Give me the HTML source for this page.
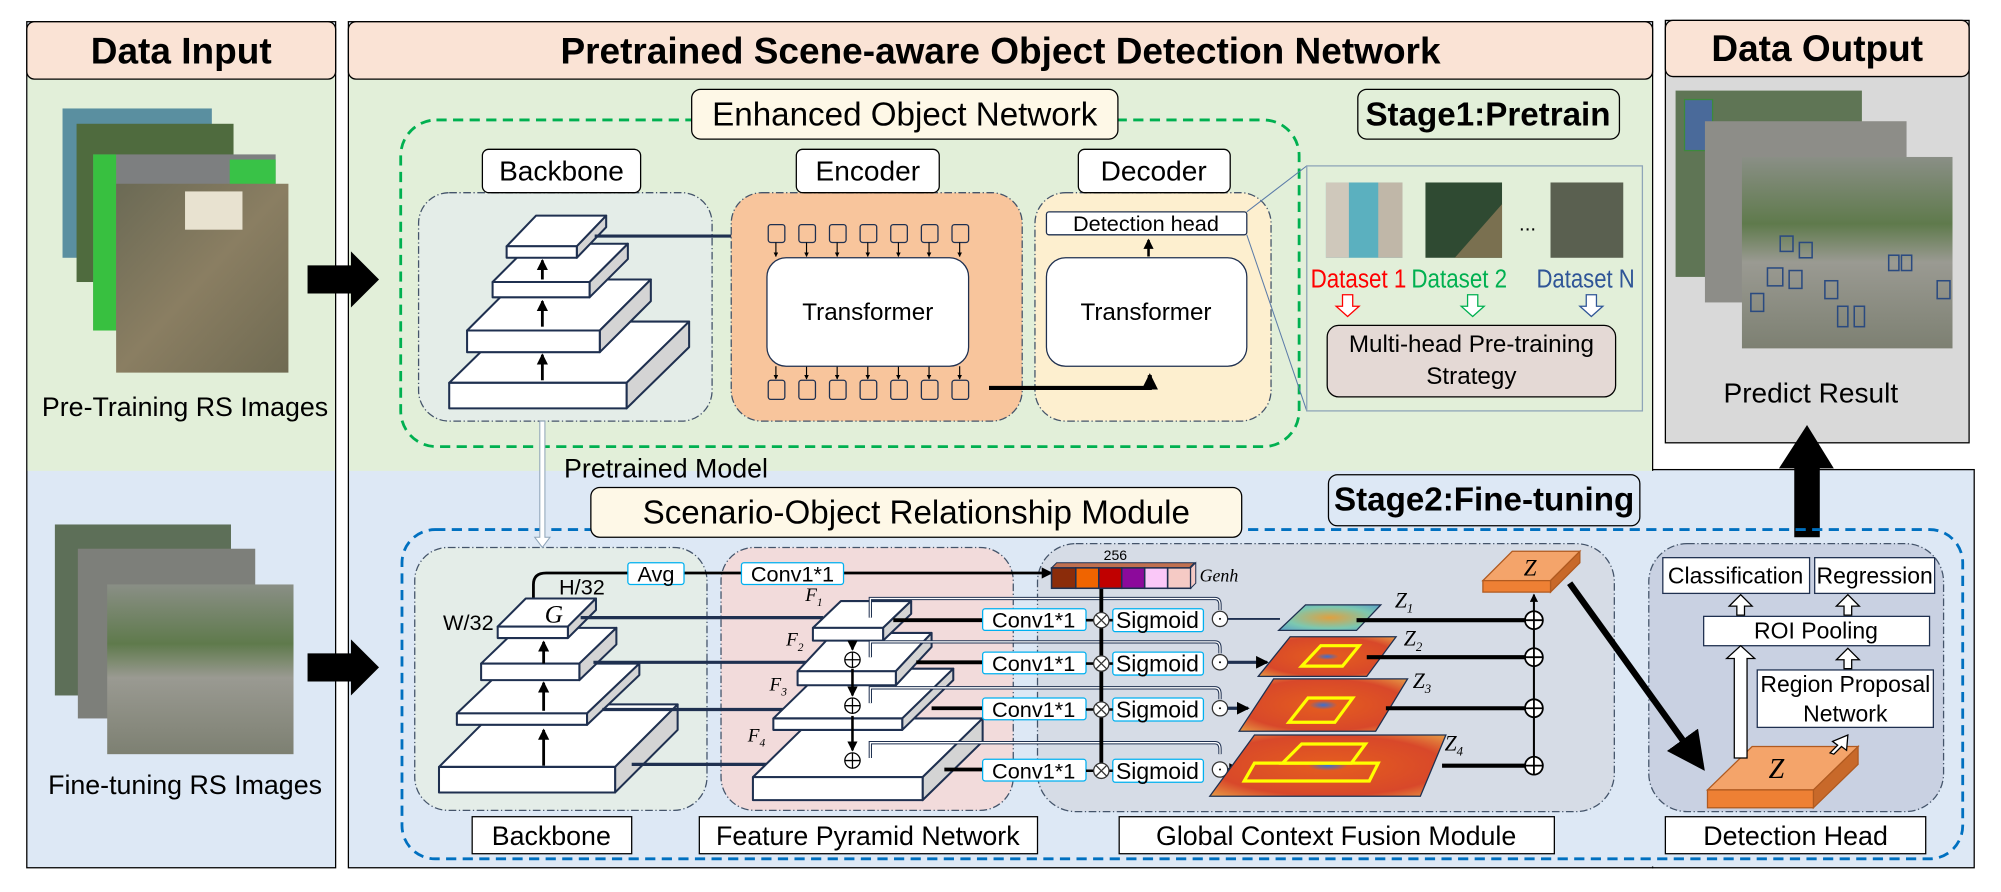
<!DOCTYPE html>
<html><head><meta charset="utf-8"><style>
html,body{margin:0;padding:0;background:#fff;}
svg{display:block;}
text{font-family:"Liberation Sans Narrow","Liberation Sans",sans-serif;fill:#000;}
.s{font-family:"Liberation Serif",serif;font-style:italic;}
</style></head><body>
<svg width="2001" height="892" viewBox="0 0 1568 699" preserveAspectRatio="none" xmlns="http://www.w3.org/2000/svg">
<defs>
<marker id="ah" markerWidth="6" markerHeight="6" refX="5" refY="3" orient="auto" markerUnits="strokeWidth"><path d="M0,0L6,3L0,6z" fill="#000"/></marker>
<marker id="ahs" markerWidth="4" markerHeight="4" refX="3.5" refY="2" orient="auto" markerUnits="strokeWidth"><path d="M0,0L4,2L0,4z" fill="#000"/></marker>
<linearGradient id="sat1" x1="0" y1="0" x2="1" y2="1"><stop offset="0" stop-color="#6b6a55"/><stop offset=".5" stop-color="#8a7e62"/><stop offset="1" stop-color="#6f6a52"/></linearGradient>
<linearGradient id="sat2" x1="0" y1="0" x2="0" y2="1"><stop offset="0" stop-color="#8a8f86"/><stop offset=".35" stop-color="#5f7a4c"/><stop offset=".55" stop-color="#9a9a92"/><stop offset="1" stop-color="#7d8072"/></linearGradient>
<radialGradient id="heat" cx=".5" cy=".5" r=".7"><stop offset="0" stop-color="#3a6fd0"/><stop offset=".12" stop-color="#e35a20"/><stop offset=".7" stop-color="#d8482a"/><stop offset="1" stop-color="#e79a45"/></radialGradient>
<radialGradient id="heat1" cx=".5" cy=".5" r=".7"><stop offset="0" stop-color="#e0a040"/><stop offset=".6" stop-color="#7cc8b0"/><stop offset="1" stop-color="#5aa0c8"/></radialGradient>
</defs>

<!-- panels -->
<rect x="21" y="17" width="242" height="663" fill="#dde8f5" stroke="#000"/>
<rect x="21.5" y="60" width="241" height="309" fill="#e2efd9"/>
<rect x="21" y="17" width="242" height="45" rx="6" fill="#fae3d5" stroke="#000"/>
<text x="142" y="40" font-size="29" font-weight="bold" text-anchor="middle" dominant-baseline="central">Data Input</text>

<rect x="273" y="17" width="1022" height="663" fill="#dde8f5" stroke="#000"/>
<rect x="1295" y="368" width="252" height="312" fill="#dde8f5" stroke="#000"/>
<rect x="1294" y="369" width="3" height="310" fill="#dde8f5"/>
<rect x="273.5" y="60" width="1021" height="309" fill="#e2efd9"/>
<rect x="273" y="17" width="1022" height="45" rx="6" fill="#fae3d5" stroke="#000"/>
<text x="784" y="40" font-size="29" font-weight="bold" text-anchor="middle" dominant-baseline="central">Pretrained Scene-aware Object Detection Network</text>

<rect x="1305" y="16" width="238" height="331" fill="#d9d9d9" stroke="#000"/>
<rect x="1305" y="16" width="238" height="44" rx="6" fill="#fae3d5" stroke="#000"/>
<text x="1424" y="38" font-size="29" font-weight="bold" text-anchor="middle" dominant-baseline="central">Data Output</text>

<!-- left images top -->
<rect x="49" y="85" width="117" height="117" fill="#5a8fa0"/>
<rect x="60" y="97" width="123" height="124" fill="#4f6b3e"/>
<rect x="73" y="121" width="143" height="138" fill="#7d7f80"/>
<rect x="73" y="121" width="18" height="138" fill="#38c040"/>
<rect x="180" y="125" width="36" height="40" fill="#39c247"/>
<rect x="91" y="144" width="135" height="148" fill="url(#sat1)"/>
<rect x="145" y="150" width="45" height="30" fill="#e8e2d0"/>
<text x="145" y="319" font-size="21" text-anchor="middle" dominant-baseline="central">Pre-Training RS Images</text>
<!-- left images bottom -->
<rect x="43" y="411" width="138" height="134" fill="#5d6f58"/>
<rect x="61" y="430" width="139" height="133" fill="#7d7f7a"/>
<rect x="84" y="458" width="146" height="133" fill="url(#sat2)"/>
<text x="145" y="615" font-size="21" text-anchor="middle" dominant-baseline="central">Fine-tuning RS Images</text>

<!-- big arrows -->
<path d="M241,208H275V197L297,219L275,241V230H241z" fill="#000"/>
<path d="M241,512H275V501L297,523L275,545V534H241z" fill="#000"/>
<path d="M1406,421V367H1394L1416,333L1437,367H1426V421z" fill="#000"/>

<!-- right output images -->
<rect x="1313" y="71" width="146" height="146" fill="#5f7555"/>
<rect x="1320" y="78" width="22" height="40" fill="#4a6a9a" stroke="#3c8a3c"/>
<rect x="1336" y="95" width="158" height="142" fill="#8d8d88"/>
<rect x="1365" y="123" width="165" height="150" fill="url(#sat2)"/>
<g fill="none" stroke="#2a4a80" stroke-width="1.2">
<rect x="1395" y="185" width="10" height="12"/><rect x="1410" y="190" width="10" height="12"/><rect x="1385" y="210" width="12" height="14"/><rect x="1402" y="212" width="10" height="14"/><rect x="1430" y="220" width="10" height="14"/><rect x="1440" y="240" width="8" height="16"/><rect x="1453" y="240" width="8" height="16"/><rect x="1480" y="200" width="8" height="12"/><rect x="1490" y="200" width="8" height="12"/><rect x="1518" y="220" width="10" height="14"/><rect x="1372" y="230" width="10" height="14"/>
</g>
<text x="1419" y="308" font-size="22" text-anchor="middle" dominant-baseline="central">Predict Result</text>

<!-- ===== Stage 1 ===== -->
<rect x="314" y="94" width="704" height="256" rx="28" fill="none" stroke="#00b050" stroke-width="2.2" stroke-dasharray="8,5"/>
<rect x="542" y="70" width="334" height="39" rx="7" fill="#fef8e7" stroke="#000"/>
<text x="709" y="90" font-size="26" text-anchor="middle" dominant-baseline="central">Enhanced Object Network</text>
<rect x="1064" y="70" width="205" height="39" rx="7" fill="#e2efd9" stroke="#000"/>
<text x="1166" y="90" font-size="26" font-weight="bold" text-anchor="middle" dominant-baseline="central">Stage1:Pretrain</text>

<rect x="328" y="151" width="230" height="179" rx="24" fill="#e4ede8" stroke="#44546a" stroke-dasharray="6,2,1,2"/>
<rect x="378" y="117" width="124" height="34" rx="5" fill="#fff" stroke="#000"/>
<text x="440" y="134" font-size="22" text-anchor="middle" dominant-baseline="central">Backbone</text>

<g stroke="#1f3050" stroke-width="1.6" stroke-linejoin="round">
<polygon points="352,300 401,252 540,252 491,300" fill="#fff"/><polygon points="491,300 540,252 540,272 491,320" fill="#d4d4d4"/><rect x="352" y="300" width="139" height="20" fill="#fff"/>
<polygon points="366,259 406,219 510,219 470,259" fill="#fff"/><polygon points="470,259 510,219 510,236 470,276" fill="#d4d4d4"/><rect x="366" y="259" width="104" height="17" fill="#fff"/>
<polygon points="386,221 416,191 492,191 462,221" fill="#fff"/><polygon points="462,221 492,191 492,203 462,233" fill="#d4d4d4"/><rect x="386" y="221" width="76" height="12" fill="#fff"/>
<polygon points="397,193 420,169 475,169 452,193" fill="#fff"/><polygon points="452,193 475,169 475,178 452,202" fill="#d4d4d4"/><rect x="397" y="193" width="55" height="9" fill="#fff"/>
</g>
<g stroke="#000" stroke-width="2.2" marker-end="url(#ahs)">
<line x1="425" y1="298" x2="425" y2="278"/><line x1="425" y1="256" x2="425" y2="236"/><line x1="425" y1="219" x2="425" y2="204"/>
</g>
<line x1="466" y1="185" x2="597" y2="185" stroke="#1f3050" stroke-width="2.5" marker-end="url(#ahs)"/>

<rect x="573" y="151" width="228" height="179" rx="24" fill="#f8c59c" stroke="#44546a" stroke-dasharray="6,2,1,2"/>
<rect x="624" y="117" width="112" height="34" rx="5" fill="#fff" stroke="#000"/>
<text x="680" y="134" font-size="22" text-anchor="middle" dominant-baseline="central">Encoder</text>
<g fill="#f8c59c" stroke="#1f3050" stroke-width="1">
<rect x="602" y="176" width="13" height="14" rx="2"/><rect x="626" y="176" width="13" height="14" rx="2"/><rect x="650" y="176" width="13" height="14" rx="2"/><rect x="674" y="176" width="13" height="14" rx="2"/><rect x="698" y="176" width="13" height="14" rx="2"/><rect x="722" y="176" width="13" height="14" rx="2"/><rect x="746" y="176" width="13" height="14" rx="2"/>
<rect x="602" y="298" width="13" height="15" rx="2"/><rect x="626" y="298" width="13" height="15" rx="2"/><rect x="650" y="298" width="13" height="15" rx="2"/><rect x="674" y="298" width="13" height="15" rx="2"/><rect x="698" y="298" width="13" height="15" rx="2"/><rect x="722" y="298" width="13" height="15" rx="2"/><rect x="746" y="298" width="13" height="15" rx="2"/>
</g>
<g stroke="#000" stroke-width="0.9" marker-end="url(#ahs)">
<line x1="608" y1="190" x2="608" y2="201"/><line x1="632" y1="190" x2="632" y2="201"/><line x1="656" y1="190" x2="656" y2="201"/><line x1="680" y1="190" x2="680" y2="201"/><line x1="704" y1="190" x2="704" y2="201"/><line x1="728" y1="190" x2="728" y2="201"/><line x1="752" y1="190" x2="752" y2="201"/>
<line x1="608" y1="287" x2="608" y2="297"/><line x1="632" y1="287" x2="632" y2="297"/><line x1="656" y1="287" x2="656" y2="297"/><line x1="680" y1="287" x2="680" y2="297"/><line x1="704" y1="287" x2="704" y2="297"/><line x1="728" y1="287" x2="728" y2="297"/><line x1="752" y1="287" x2="752" y2="297"/>
</g>
<rect x="601" y="202" width="158" height="85" rx="15" fill="#fff" stroke="#1f3050"/>
<text x="680" y="245" font-size="19" text-anchor="middle" dominant-baseline="central">Transformer</text>

<rect x="811" y="151" width="185" height="179" rx="24" fill="#fdefcf" stroke="#44546a" stroke-dasharray="6,2,1,2"/>
<rect x="845" y="117" width="119" height="34" rx="5" fill="#fff" stroke="#000"/>
<text x="904" y="134" font-size="22" text-anchor="middle" dominant-baseline="central">Decoder</text>
<rect x="820" y="166" width="157" height="18" rx="2" fill="#fff" stroke="#1f3050"/>
<text x="898" y="175" font-size="17" text-anchor="middle" dominant-baseline="central">Detection head</text>
<line x1="900" y1="201" x2="900" y2="188" stroke="#000" stroke-width="2" marker-end="url(#ahs)"/>
<rect x="820" y="202" width="157" height="85" rx="15" fill="#fff" stroke="#1f3050"/>
<text x="898" y="245" font-size="19" text-anchor="middle" dominant-baseline="central">Transformer</text>
<polyline points="775,304 901,304 901,294" fill="none" stroke="#000" stroke-width="3.2" marker-end="url(#ahs)"/>

<line x1="977" y1="166" x2="1024" y2="130" stroke="#5b7ba8" stroke-width="0.8"/>
<line x1="977" y1="184" x2="1024" y2="322" stroke="#5b7ba8" stroke-width="0.8"/>
<rect x="1024" y="130" width="263" height="192" fill="#e2efd9" stroke="#8ea4b8"/>
<rect x="1039" y="143" width="60" height="59" fill="#5bb0bf"/><rect x="1039" y="143" width="18" height="59" fill="#cfc8bb"/><rect x="1080" y="143" width="19" height="59" fill="#c0b7a8"/>
<rect x="1117" y="143" width="60" height="59" fill="#2f4a32"/><polygon points="1140,202 1177,160 1177,202" fill="#7a7050"/>
<rect x="1215" y="143" width="57" height="59" fill="#5a6050"/>
<text x="1197" y="176" font-size="16" text-anchor="middle" dominant-baseline="central">...</text>
<text x="1027" y="219" font-size="20" textLength="75" lengthAdjust="spacingAndGlyphs" dominant-baseline="central" style="fill:#ff0000">Dataset 1</text>
<text x="1106" y="219" font-size="20" textLength="75" lengthAdjust="spacingAndGlyphs" dominant-baseline="central" style="fill:#00b050">Dataset 2</text>
<text x="1204" y="219" font-size="20" textLength="77" lengthAdjust="spacingAndGlyphs" dominant-baseline="central" style="fill:#2f5597">Dataset N</text>
<path d="M1052,231h8v9h5l-9,8l-9,-8h5z" fill="#fff" stroke="#ff0000"/>
<path d="M1150,231h8v9h5l-9,8l-9,-8h5z" fill="#fff" stroke="#00b050"/>
<path d="M1243,231h8v9h5l-9,8l-9,-8h5z" fill="#fff" stroke="#2f5597"/>
<rect x="1040" y="255" width="226" height="56" rx="9" fill="#e4d9d5" stroke="#000"/>
<text x="1153" y="270" font-size="19" text-anchor="middle" dominant-baseline="central">Multi-head Pre-training</text>
<text x="1153" y="295" font-size="19" text-anchor="middle" dominant-baseline="central">Strategy</text>

<!-- ===== Stage 2 ===== -->
<text x="442" y="367" font-size="21" dominant-baseline="central">Pretrained Model</text>
<rect x="1041" y="372" width="244" height="40" rx="7" fill="#dde8f5" stroke="#000"/>
<text x="1163" y="392" font-size="26" font-weight="bold" text-anchor="middle" dominant-baseline="central">Stage2:Fine-tuning</text>
<rect x="315" y="415" width="1223" height="258" rx="26" fill="none" stroke="#0070c0" stroke-width="2.2" stroke-dasharray="8,5"/>
<rect x="463" y="382" width="510" height="39" rx="7" fill="#fef8e7" stroke="#000"/>
<text x="718" y="402" font-size="26" text-anchor="middle" dominant-baseline="central">Scenario-Object Relationship Module</text>

<rect x="325" y="429" width="229" height="206" rx="26" fill="#e4ede8" stroke="#44546a" stroke-dasharray="6,2,1,2"/>
<rect x="565" y="429" width="229" height="206" rx="26" fill="#f2dbdb" stroke="#44546a" stroke-dasharray="6,2,1,2"/>
<rect x="813" y="426" width="452" height="210" rx="30" fill="#d6dce6" stroke="#44546a" stroke-dasharray="6,2,1,2"/>
<rect x="1292" y="426" width="231" height="210" rx="30" fill="#c9d1e2" stroke="#44546a" stroke-dasharray="6,2,1,2"/>

<path d="M423,330V421H419L425,429L431,421H427V330z" fill="#fff" stroke="#8ea4b8" stroke-width="0.8"/>

<rect x="370" y="640" width="125" height="29" fill="#fff" stroke="#000"/>
<text x="432" y="655" font-size="21" text-anchor="middle" dominant-baseline="central">Backbone</text>
<rect x="548" y="640" width="265" height="29" fill="#fff" stroke="#000"/>
<text x="680" y="655" font-size="21" text-anchor="middle" dominant-baseline="central">Feature Pyramid Network</text>
<rect x="877" y="640" width="341" height="29" fill="#fff" stroke="#000"/>
<text x="1047" y="655" font-size="21" text-anchor="middle" dominant-baseline="central">Global Context Fusion Module</text>
<rect x="1305" y="640" width="204" height="29" fill="#fff" stroke="#000"/>
<text x="1407" y="655" font-size="21" text-anchor="middle" dominant-baseline="central">Detection Head</text>

<path d="M418,472V458Q418,449 428,449H824" fill="none" stroke="#000" stroke-width="2.2" marker-end="url(#ahs)"/>
<rect x="492" y="441" width="44" height="17" rx="2" fill="#fff" stroke="#00b0f0"/>
<text x="514" y="450" font-size="17" text-anchor="middle" dominant-baseline="central">Avg</text>
<rect x="581" y="441" width="80" height="17" rx="2" fill="#fff" stroke="#00b0f0"/>
<text x="621" y="450" font-size="17" text-anchor="middle" dominant-baseline="central">Conv1*1</text>

<g stroke="#1f3050" stroke-width="1.6" stroke-linejoin="round">
<polygon points="344,601 393,552 531,552 482,601" fill="#fff"/><polygon points="482,601 531,552 531,572 482,621" fill="#d4d4d4"/><rect x="344" y="601" width="138" height="20" fill="#fff"/>
<polygon points="358,559 399,520 501,520 460,559" fill="#fff"/><polygon points="460,559 501,520 501,529 460,568" fill="#d4d4d4"/><rect x="358" y="559" width="102" height="9" fill="#fff"/>
<polygon points="377,520 406,492 483,492 454,520" fill="#fff"/><polygon points="454,520 483,492 483,505 454,533" fill="#d4d4d4"/><rect x="377" y="520" width="77" height="13" fill="#fff"/>
<polygon points="390,491 412,469 467,469 445,491" fill="#fff"/><polygon points="445,491 467,469 467,478 445,500" fill="#d4d4d4"/><rect x="390" y="491" width="55" height="9" fill="#fff"/>
</g>
<text x="434" y="481" class="s" font-size="20" text-anchor="middle" dominant-baseline="central">G</text>
<text x="367" y="488" font-size="17" text-anchor="middle" dominant-baseline="central">W/32</text>
<text x="456" y="460" font-size="17" text-anchor="middle" dominant-baseline="central">H/32</text>
<g stroke="#000" stroke-width="2.2" marker-end="url(#ahs)">
<line x1="426" y1="600" x2="426" y2="572"/><line x1="426" y1="557" x2="426" y2="535"/><line x1="426" y1="520" x2="426" y2="503"/>
</g>
<g stroke="#1f3050" stroke-width="2.5">
<line x1="455" y1="484" x2="645" y2="484"/>
<line x1="465" y1="519" x2="661" y2="519" marker-end="url(#ahs)"/>
<line x1="472" y1="556" x2="661" y2="556" marker-end="url(#ahs)"/>
<line x1="495" y1="599" x2="661" y2="599" marker-end="url(#ahs)"/>
</g>

<g stroke="#1f3050" stroke-width="1.6" stroke-linejoin="round">
<polygon points="590,609 637,563 770,563 723,609" fill="#fff"/><polygon points="723,609 770,563 770,581 723,627" fill="#d4d4d4"/><rect x="590" y="609" width="133" height="18" fill="#fff"/>
<polygon points="606,563 646,524 747,524 707,563" fill="#fff"/><polygon points="707,563 747,524 747,533 707,572" fill="#d4d4d4"/><rect x="606" y="563" width="101" height="9" fill="#fff"/>
<polygon points="625,526 653,496 730,496 702,526" fill="#fff"/><polygon points="702,526 730,496 730,507 702,537" fill="#d4d4d4"/><rect x="625" y="526" width="77" height="11" fill="#fff"/>
<polygon points="637,492 659,471 714,471 692,492" fill="#fff"/><polygon points="692,492 714,471 714,481 692,502" fill="#d4d4d4"/><rect x="637" y="492" width="55" height="10" fill="#fff"/>
</g>
<g class="s" font-size="15">
<text x="631" y="471" class="s">F<tspan font-size="9" dy="4">1</tspan></text>
<text x="616" y="506" class="s">F<tspan font-size="9" dy="4">2</tspan></text>
<text x="603" y="541" class="s">F<tspan font-size="9" dy="4">3</tspan></text>
<text x="586" y="581" class="s">F<tspan font-size="9" dy="4">4</tspan></text>
</g>
<g stroke="#000" stroke-width="2">
<line x1="668" y1="502" x2="668" y2="509" marker-end="url(#ahs)"/>
<line x1="668" y1="524" x2="668" y2="545" marker-end="url(#ahs)"/>
<line x1="668" y1="561" x2="668" y2="588" marker-end="url(#ahs)"/>
</g>
<g fill="#fff" stroke="#000" stroke-width="1">
<circle cx="668" cy="517" r="6"/><path d="M662,517h12M668,511v12"/>
<circle cx="668" cy="553" r="6"/><path d="M662,553h12M668,547v12"/>
<circle cx="668" cy="596" r="6"/><path d="M662,596h12M668,590v12"/>
</g>
<g fill="none" stroke="#1f3050" stroke-width="2.6">
<path d="M682,484V469H952Q956,469 956,474V478"/>
<path d="M682,515V503H952Q956,503 956,508V512"/>
<path d="M682,551V539H952Q956,539 956,544V548"/>
<path d="M682,594V582H952Q956,582 956,587V591"/>
</g>
<g fill="none" stroke="#fff" stroke-width="1">
<path d="M682,484V469H952Q956,469 956,474V478"/>
<path d="M682,515V503H952Q956,503 956,508V512"/>
<path d="M682,551V539H952Q956,539 956,544V548"/>
<path d="M682,594V582H952Q956,582 956,587V591"/>
</g>
<g stroke="#000" stroke-width="3">
<line x1="700" y1="486" x2="770" y2="486"/><line x1="718" y1="519" x2="770" y2="519"/><line x1="730" y1="555" x2="770" y2="555"/><line x1="740" y1="603" x2="770" y2="603"/>
</g>
<line x1="863" y1="461" x2="863" y2="603" stroke="#000" stroke-width="3"/>
<g>
<rect x="770" y="477" width="81" height="17" rx="2" fill="#fff" stroke="#00b0f0"/><text x="810" y="486" font-size="17" text-anchor="middle" dominant-baseline="central">Conv1*1</text>
<rect x="770" y="511" width="81" height="17" rx="2" fill="#fff" stroke="#00b0f0"/><text x="810" y="520" font-size="17" text-anchor="middle" dominant-baseline="central">Conv1*1</text>
<rect x="770" y="547" width="81" height="17" rx="2" fill="#fff" stroke="#00b0f0"/><text x="810" y="556" font-size="17" text-anchor="middle" dominant-baseline="central">Conv1*1</text>
<rect x="770" y="595" width="81" height="17" rx="2" fill="#fff" stroke="#00b0f0"/><text x="810" y="604" font-size="17" text-anchor="middle" dominant-baseline="central">Conv1*1</text>
<rect x="872" y="477" width="71" height="18" rx="2" fill="#fff" stroke="#00b0f0"/><text x="907" y="486" font-size="18" text-anchor="middle" dominant-baseline="central">Sigmoid</text>
<rect x="872" y="511" width="71" height="18" rx="2" fill="#fff" stroke="#00b0f0"/><text x="907" y="520" font-size="18" text-anchor="middle" dominant-baseline="central">Sigmoid</text>
<rect x="872" y="547" width="71" height="18" rx="2" fill="#fff" stroke="#00b0f0"/><text x="907" y="556" font-size="18" text-anchor="middle" dominant-baseline="central">Sigmoid</text>
<rect x="872" y="595" width="71" height="18" rx="2" fill="#fff" stroke="#00b0f0"/><text x="907" y="604" font-size="18" text-anchor="middle" dominant-baseline="central">Sigmoid</text>
</g>
<g stroke="#000" stroke-width="2"><line x1="851" y1="486" x2="872" y2="486"/><line x1="851" y1="520" x2="872" y2="520"/><line x1="851" y1="556" x2="872" y2="556"/><line x1="851" y1="604" x2="872" y2="604"/></g>
<g fill="#fff" stroke="#333" stroke-width="1">
<circle cx="863" cy="486" r="6"/><path d="M859,482l8,8M867,482l-8,8"/>
<circle cx="863" cy="520" r="6"/><path d="M859,516l8,8M867,516l-8,8"/>
<circle cx="863" cy="556" r="6"/><path d="M859,552l8,8M867,552l-8,8"/>
<circle cx="863" cy="604" r="6"/><path d="M859,600l8,8M867,600l-8,8"/>
<circle cx="956" cy="485" r="6"/><circle cx="956" cy="519" r="6"/><circle cx="956" cy="555" r="6"/><circle cx="956" cy="603" r="6"/>
</g>
<g fill="#000"><circle cx="956" cy="485" r="0.8"/><circle cx="956" cy="519" r="0.8"/><circle cx="956" cy="555" r="0.8"/><circle cx="956" cy="603" r="0.8"/></g>
<g stroke="#1f3050" stroke-width="2.5">
<line x1="962" y1="485" x2="1003" y2="485" stroke-width="1.5"/>
<line x1="962" y1="519" x2="993" y2="519" marker-end="url(#ahs)"/>
<line x1="962" y1="555" x2="978" y2="555" marker-end="url(#ahs)"/>
<line x1="962" y1="603" x2="972" y2="603" marker-end="url(#ahs)"/>
</g>
<polygon points="824,445 828,441 936,441 932,445" fill="#c07050" stroke="#1f3050" stroke-width="0.8"/>
<g stroke="#1f3050" stroke-width="1.2">
<rect x="824" y="445" width="19" height="16" fill="#8b2c0a"/><rect x="843" y="445" width="18" height="16" fill="#f06400"/><rect x="861" y="445" width="18" height="16" fill="#c00000"/><rect x="879" y="445" width="18" height="16" fill="#8c0a9b"/><rect x="897" y="445" width="18" height="16" fill="#fac8f8"/><rect x="915" y="445" width="18" height="16" fill="#f5cac5"/>
</g>
<polygon points="933,445 937,441 937,457 933,461" fill="#f5cac5" stroke="#1f3050" stroke-width="0.8"/>
<text x="874" y="435" font-size="11" text-anchor="middle" dominant-baseline="central">256</text>
<text x="940" y="451" class="s" font-size="14" dominant-baseline="central">Genh</text>

<polygon points="1002,494 1023,474 1082,474 1063,494" fill="url(#heat1)" stroke="#1f3050"/>
<polygon points="986,530 1011,499 1094,499 1071,530" fill="url(#heat)" stroke="#1f3050"/>
<polygon points="1020,522 1035,506 1065,506 1052,522" fill="none" stroke="#ffff00" stroke-width="2.5"/>
<polygon points="971,573 998,532 1103,532 1078,573" fill="url(#heat)" stroke="#1f3050"/>
<polygon points="1010,566 1025,547 1060,547 1046,566" fill="none" stroke="#ffff00" stroke-width="2.5"/>
<polygon points="948,624 983,576 1133,576 1113,624" fill="url(#heat)" stroke="#1f3050"/>
<polygon points="1005,598 1020,583 1070,583 1059,598" fill="none" stroke="#ffff00" stroke-width="2.5"/>
<polygon points="975,612 983,598 1080,598 1073,612" fill="none" stroke="#ffff00" stroke-width="2.5"/>
<g class="s" font-size="17">
<text x="1093" y="476" class="s">Z<tspan font-size="10" dy="4">1</tspan></text>
<text x="1100" y="506" class="s">Z<tspan font-size="10" dy="4">2</tspan></text>
<text x="1107" y="539" class="s">Z<tspan font-size="10" dy="4">3</tspan></text>
<text x="1132" y="588" class="s">Z<tspan font-size="10" dy="4">4</tspan></text>
</g>
<g stroke="#000" stroke-width="3.2">
<line x1="1063" y1="486" x2="1202" y2="486"/><line x1="1071" y1="515" x2="1202" y2="515"/><line x1="1086" y1="555" x2="1202" y2="555"/><line x1="1130" y1="600" x2="1202" y2="600"/>
</g>
<line x1="1202" y1="600" x2="1202" y2="466" stroke="#000" stroke-width="1.6" marker-end="url(#ahs)"/>
<g fill="#fff" stroke="#000" stroke-width="1.4">
<ellipse cx="1202" cy="486" rx="7" ry="7"/><path d="M1195,486h14M1202,479v14"/>
<ellipse cx="1202" cy="515" rx="7" ry="7"/><path d="M1195,515h14M1202,508v14"/>
<ellipse cx="1202" cy="555" rx="7" ry="7"/><path d="M1195,555h14M1202,548v14"/>
<ellipse cx="1202" cy="600" rx="7" ry="7"/><path d="M1195,600h14M1202,593v14"/>
</g>
<g stroke="#b05a20" stroke-width="1">
<polygon points="1162,455 1185,432 1238,432 1215,455" fill="#f4a46a"/>
<polygon points="1215,455 1238,432 1238,441 1215,464" fill="#c8692a"/>
<rect x="1162" y="455" width="53" height="9" fill="#ee8034"/>
</g>
<text x="1199" y="445" class="s" font-size="18" text-anchor="middle" dominant-baseline="central">Z</text>
<line x1="1230" y1="457" x2="1333" y2="600" stroke="#000" stroke-width="5" marker-end="url(#ah)"/>

<g stroke="#b05a20" stroke-width="1">
<polygon points="1338,619 1373,585 1456,585 1421,619" fill="#f4a46a"/>
<polygon points="1421,619 1456,585 1456,599 1421,633" fill="#c8692a"/>
<rect x="1338" y="619" width="83" height="14" fill="#ee8034"/>
</g>
<text x="1392" y="603" class="s" font-size="22" text-anchor="middle" dominant-baseline="central">Z</text>
<rect x="1303" y="437" width="115" height="28" fill="#fff" stroke="#1f3050"/>
<text x="1360" y="451" font-size="18" text-anchor="middle" dominant-baseline="central">Classification</text>
<rect x="1422" y="437" width="94" height="28" fill="#fff" stroke="#1f3050"/>
<text x="1469" y="451" font-size="18" text-anchor="middle" dominant-baseline="central">Regression</text>
<rect x="1335" y="483" width="177" height="23" fill="#fff" stroke="#1f3050"/>
<text x="1423" y="494" font-size="18" text-anchor="middle" dominant-baseline="central">ROI Pooling</text>
<rect x="1377" y="525" width="138" height="45" fill="#fff" stroke="#1f3050"/>
<text x="1446" y="536" font-size="18" text-anchor="middle" dominant-baseline="central">Region Proposal</text>
<text x="1446" y="559" font-size="18" text-anchor="middle" dominant-baseline="central">Network</text>
<g fill="#fff" stroke="#000" stroke-width="1">
<path d="M1361,482v-7h-6l9,-9l9,9h-6v7z"/>
<path d="M1445,482v-7h-6l9,-9l9,9h-6v7z"/>
<path d="M1445,524v-7h-6l9,-9l9,9h-6v7z"/>
<path d="M1359,594V516h-6l11,-10l11,10h-6v78z"/>
<path d="M1434,590l6,-6l-4,-3l12,-5l-1,12l-4,-3l-6,6z"/>
</g>
</svg>
</body></html>
